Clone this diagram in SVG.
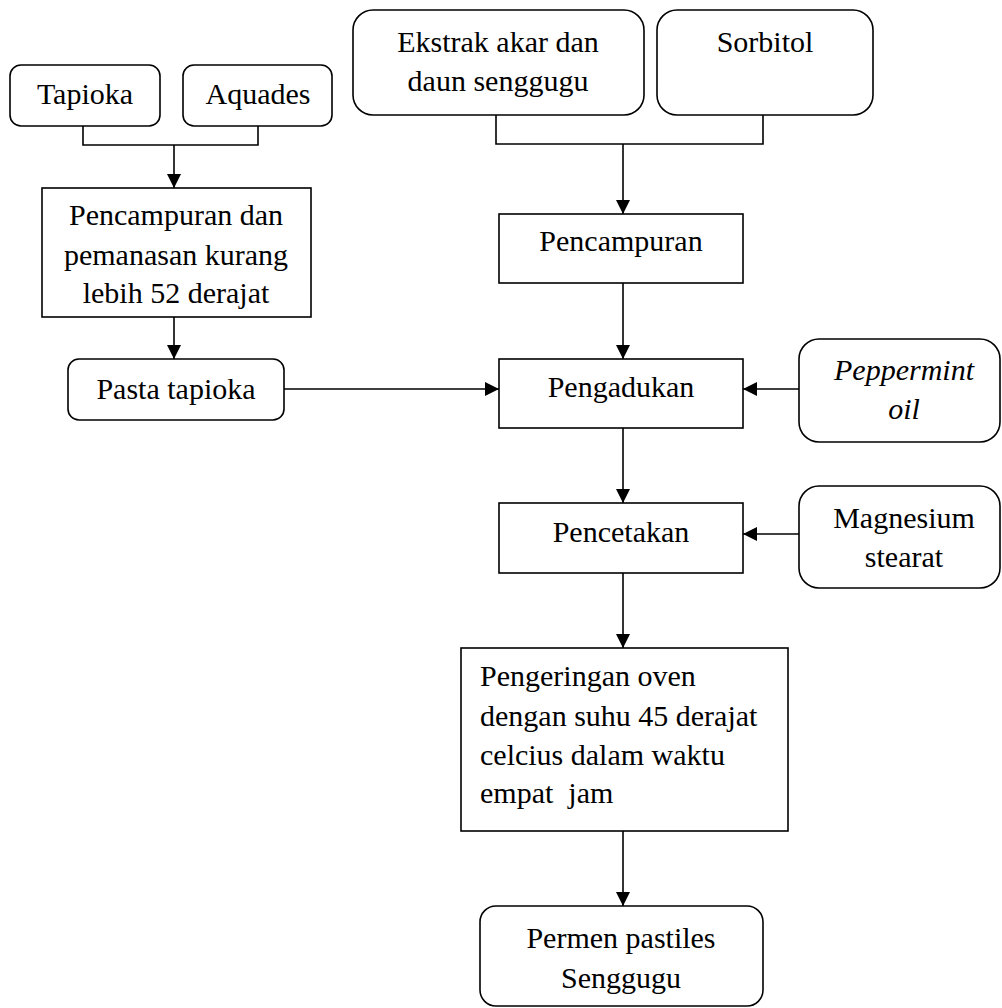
<svg xmlns="http://www.w3.org/2000/svg" width="1002" height="1008" viewBox="0 0 1002 1008">
<style>
.box{fill:#fff;stroke:#000;stroke-width:1.6}
.t{font-family:"Liberation Serif","Times New Roman",serif;font-size:30px;fill:#000;text-anchor:middle}
.l{text-anchor:start}
.i{font-style:italic}
.c{fill:none;stroke:#000;stroke-width:1.6}
</style>
<defs>
<marker id="ah" markerUnits="userSpaceOnUse" markerWidth="16" markerHeight="16" refX="14" refY="7" orient="auto">
<path d="M0,0 L14,7 L0,14 z" fill="#000"/>
</marker>
</defs>
<rect width="1002" height="1008" fill="#fff"/>
<g id="connectors">
<polyline class="c" points="83,126 83,145 258,145 258,126"/>
<line class="c" x1="174" y1="145" x2="174" y2="188" marker-end="url(#ah)"/>
<polyline class="c" points="496,115 496,144 763,144 763,115"/>
<line class="c" x1="623" y1="144" x2="623" y2="214" marker-end="url(#ah)"/>
<line class="c" x1="174" y1="317" x2="174" y2="359" marker-end="url(#ah)"/>
<line class="c" x1="284" y1="389" x2="499" y2="389" marker-end="url(#ah)"/>
<line class="c" x1="623" y1="283" x2="623" y2="359" marker-end="url(#ah)"/>
<line class="c" x1="799" y1="389" x2="743" y2="389" marker-end="url(#ah)"/>
<line class="c" x1="623" y1="428" x2="623" y2="503" marker-end="url(#ah)"/>
<line class="c" x1="799" y1="534" x2="743" y2="534" marker-end="url(#ah)"/>
<line class="c" x1="623" y1="573" x2="623" y2="648" marker-end="url(#ah)"/>
<line class="c" x1="623" y1="831" x2="623" y2="906" marker-end="url(#ah)"/>
</g>
<g id="tapioka">
<rect class="box" x="10" y="65" width="150" height="61" rx="11"/>
<text class="t" x="85" y="104">Tapioka</text>
</g>
<g id="aquades">
<rect class="box" x="183" y="65" width="149" height="61" rx="11"/>
<text class="t" x="258" y="104">Aquades</text>
</g>
<g id="ekstrak">
<rect class="box" x="353" y="10" width="291" height="105" rx="20"/>
<text class="t" x="498" y="52">Ekstrak akar dan</text>
<text class="t" x="498" y="91">daun senggugu</text>
</g>
<g id="sorbitol">
<rect class="box" x="657" y="10" width="216" height="105" rx="20"/>
<text class="t" x="765" y="52">Sorbitol</text>
</g>
<g id="pemanasan">
<rect class="box" x="42" y="188" width="269" height="129"/>
<text class="t" x="176" y="225">Pencampuran dan</text>
<text class="t" x="176" y="265">pemanasan kurang</text>
<text class="t" x="176" y="303">lebih 52 derajat</text>
</g>
<g id="pencampuran">
<rect class="box" x="499" y="214" width="244" height="69"/>
<text class="t" x="621" y="251">Pencampuran</text>
</g>
<g id="pasta">
<rect class="box" x="68" y="359" width="216" height="61" rx="11"/>
<text class="t" x="176" y="399">Pasta tapioka</text>
</g>
<g id="pengadukan">
<rect class="box" x="499" y="359" width="244" height="69"/>
<text class="t" x="621" y="397">Pengadukan</text>
</g>
<g id="peppermint">
<rect class="box" x="799" y="339" width="201" height="103" rx="20"/>
<text class="t i" x="904" y="380">Peppermint</text>
<text class="t i" x="904" y="419">oil</text>
</g>
<g id="pencetakan">
<rect class="box" x="499" y="503" width="244" height="70"/>
<text class="t" x="621" y="542">Pencetakan</text>
</g>
<g id="magnesium">
<rect class="box" x="799" y="486" width="201" height="102" rx="20"/>
<text class="t" x="904" y="528">Magnesium</text>
<text class="t" x="904" y="567">stearat</text>
</g>
<g id="pengeringan">
<rect class="box" x="461" y="648" width="327" height="183"/>
<text class="t l" x="480" y="686">Pengeringan oven</text>
<text class="t l" x="480" y="726">dengan suhu 45 derajat</text>
<text class="t l" x="480" y="765">celcius dalam waktu</text>
<text class="t l" x="480" y="803" xml:space="preserve">empat  jam</text>
</g>
<g id="permen">
<rect class="box" x="480" y="906" width="283" height="100" rx="16"/>
<text class="t" x="621" y="948">Permen pastiles</text>
<text class="t" x="621" y="988">Senggugu</text>
</g>
</svg>
